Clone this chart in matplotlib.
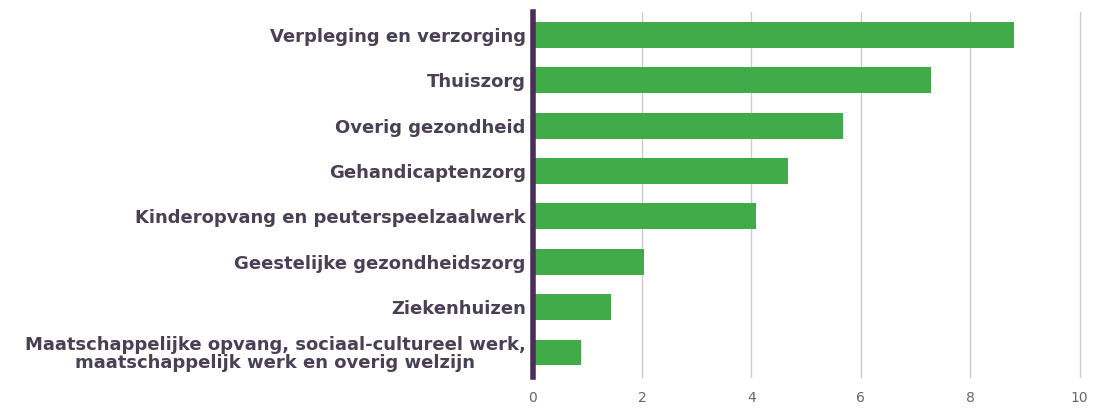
import matplotlib
matplotlib.use("Agg")
import matplotlib.pyplot as plt

categories = [
    "Verpleging en verzorging",
    "Thuiszorg",
    "Overig gezondheid",
    "Gehandicaptenzorg",
    "Kinderopvang en peuterspeelzaalwerk",
    "Geestelijke gezondheidszorg",
    "Ziekenhuizen",
    "Maatschappelijke opvang, sociaal-cultureel werk,\nmaatschappelijk werk en overig welzijn",
]
values = [8.8, 7.28, 5.67, 4.66, 4.08, 2.03, 1.43, 0.88]
xticks = [0, 2, 4, 6, 8, 10]

fig = plt.figure(figsize=(10.96, 4.08), dpi=100)
ax = fig.add_axes([0.486, 0.076, 0.499, 0.894])

ypos = list(range(len(categories)))
ax.barh(ypos, values, height=0.57, color="#41ab4a", zorder=3)
ax.set_ylim(len(categories) - 0.46, -0.5)
ax.set_xlim(0, 10)
ax.set_xticks(xticks)
ax.set_xticklabels([str(t) for t in xticks], color="#666666", fontsize=10,
                   family="DejaVu Sans")
ax.set_yticks(ypos)
ax.set_yticklabels(categories, fontsize=13, fontweight="bold", color="#4a4055",
                   family="DejaVu Sans", multialignment="center", linespacing=1.0)
ax.tick_params(axis="y", length=0, pad=5)
ax.tick_params(axis="x", length=0, pad=10)
ax.grid(axis="x", color="#cccccc", linewidth=1, zorder=0)
for gl in ax.get_xgridlines():
    gl.set_clip_on(False)
for s in ["top", "right", "bottom"]:
    ax.spines[s].set_visible(False)
ax.spines["left"].set_color("#4a2f5a")
ax.spines["left"].set_linewidth(4)
ax.spines["left"].set_zorder(4)

fig.savefig("out.png", dpi=100)
